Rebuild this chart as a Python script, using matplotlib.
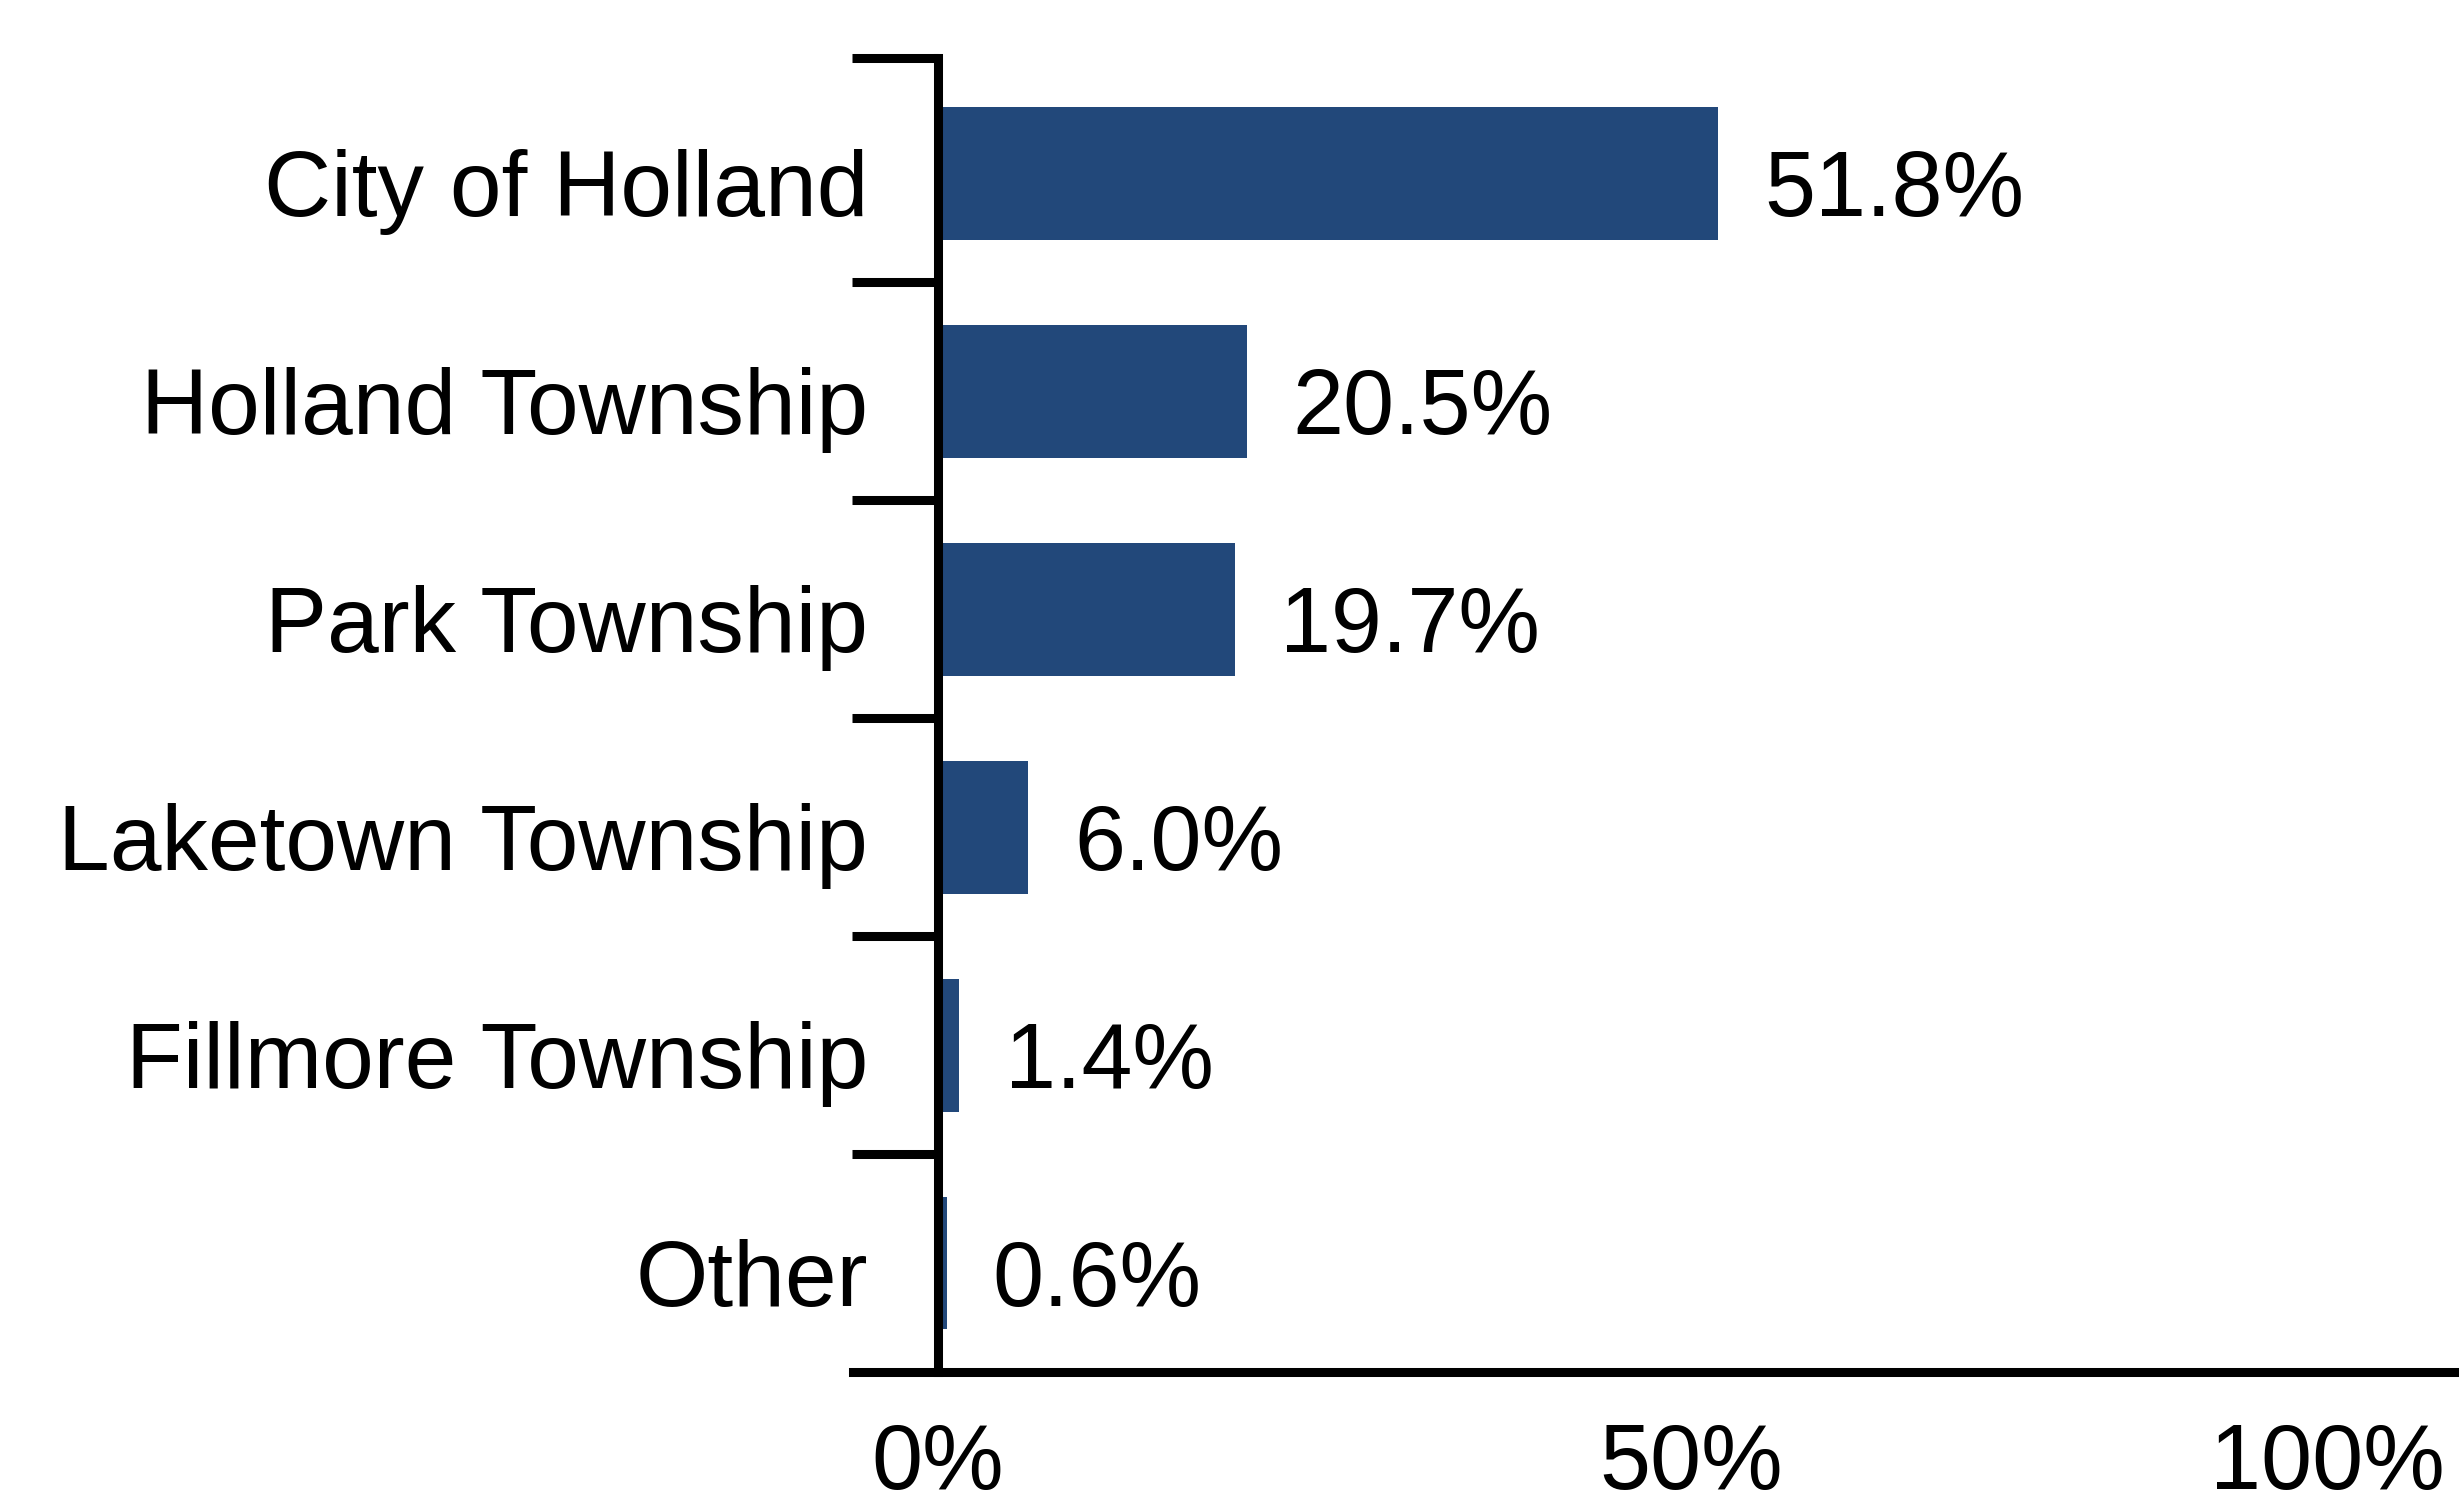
import matplotlib
matplotlib.use("Agg")
import matplotlib.pyplot as plt
from matplotlib.transforms import ScaledTranslation

plt.rcParams["font.family"] = ["Liberation Sans", "DejaVu Sans"]

places = ["City of Holland", "Holland Township", "Park Township",
          "Laketown Township", "Fillmore Township", "Other"]
shares = [51.8, 20.5, 19.7, 6.0, 1.4, 0.6]
x_ticks = [0, 50, 100]
x_tick_labels = ["0%", "50%", "100%"]

BAR_COLOR = "#22487A"
FS = 66
LW = 6.5

fig = plt.figure(figsize=(24.59, 15.06), dpi=100)
ax = fig.add_axes([0.3813, 0.0890, 0.6130, 0.8725])

ypos = list(range(len(places)))
ax.barh(ypos, shares, height=0.61, color=BAR_COLOR, zorder=2)

for y, v in zip(ypos, shares):
    ax.annotate(f"{v:.1f}%", (v, y), xytext=(33, -6.5), textcoords="offset points",
                ha="left", va="center_baseline", fontsize=FS, color="black")

ax.set_xlim(0, 100)
y_top = -0.53
ax.set_ylim(len(places) - 0.5, y_top)

# category names sit on major ticks, separators are minor ticks between rows
ax.set_yticks(ypos)
ax.set_yticklabels(places, fontsize=FS + 1)
ax.set_yticks([y_top] + [i + 0.5 for i in ypos[:-1]], minor=True)
ax.tick_params(axis="y", which="major", length=0, pad=50)
ax.tick_params(axis="y", which="minor", length=62, width=LW, direction="out")

# nudge the row names down a little so they line up with the value labels
shift = ScaledTranslation(0, -6.5 / 72, fig.dpi_scale_trans)
for lab in ax.get_yticklabels():
    lab.set_transform(lab.get_transform() + shift)

ax.set_xticks(x_ticks)
ax.set_xticklabels(x_tick_labels, fontsize=FS)
ax.tick_params(axis="x", which="major", length=0, pad=36)
ax.get_xticklabels()[-1].set_horizontalalignment("right")

for side in ("top", "right"):
    ax.spines[side].set_visible(False)
ax.spines["left"].set_linewidth(LW)
ax.spines["bottom"].set_linewidth(LW)
ax.spines["bottom"].set_bounds(-5.6, 100.6)

fig.savefig("out.png", dpi=100, facecolor="white")
